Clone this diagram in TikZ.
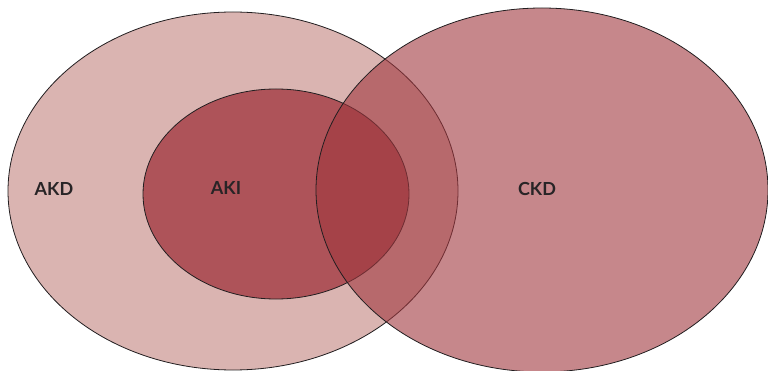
\documentclass[tikz,border=0pt]{standalone}
\usepackage{fontspec}
\setmainfont{Lato}
\definecolor{akdfill}{RGB}{218,180,177}
\definecolor{akifill}{RGB}{174,83,89}
\definecolor{ckdfill}{RGB}{160,55,62}
\definecolor{edge}{RGB}{34,30,32}
\definecolor{labeltext}{RGB}{40,36,38}

\tikzset{
  setline/.style={draw=edge, line width=0.8pt},
  setlabel/.style={font=\bfseries\fontsize{18}{20}\selectfont, text=labeltext}
}

\begin{document}
\begin{tikzpicture}[x=1pt,y=-1pt]

% the page
\useasboundingbox (0,0) rectangle (768,371);

% AKD and AKI
\filldraw[setline, fill=akdfill] (233,191) ellipse [x radius=225pt, y radius=179pt];
\filldraw[setline, fill=akifill] (276,194) ellipse [x radius=133pt, y radius=105pt];

% CKD on top
\fill[ckdfill, fill opacity=0.6] (542,190) ellipse [x radius=226pt, y radius=182pt];
\draw[setline] (542,190) ellipse [x radius=226pt, y radius=182pt];

% the labels
\node[setlabel] (akd) at (54,189) {AKD};
\node[setlabel] (aki) at (226,188) {AKI};
\node[setlabel] (ckd) at (537,189) {CKD};

\end{tikzpicture}
\end{document}
